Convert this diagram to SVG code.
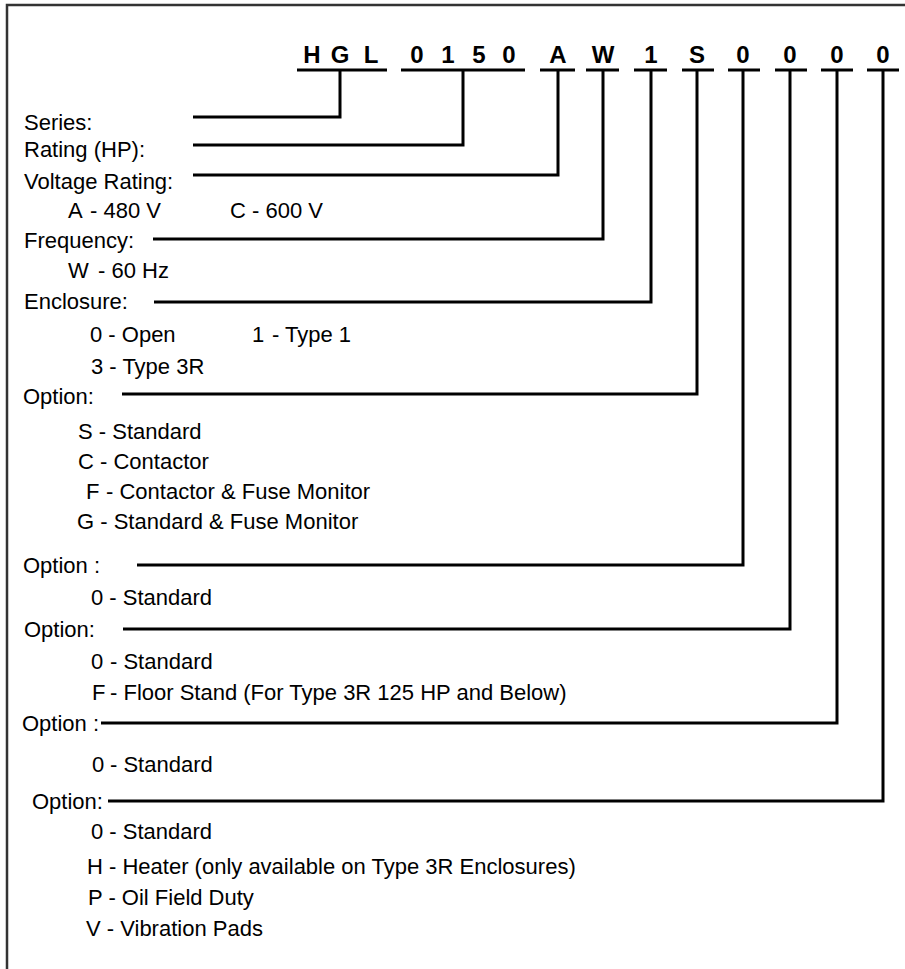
<svg xmlns="http://www.w3.org/2000/svg" width="905" height="969" viewBox="0 0 905 969">
<style>
text{font-family:"Liberation Sans",Arial,sans-serif;fill:#000}
.lbl{font-size:22px}
.code{font-size:24px;font-weight:bold;text-anchor:middle}
.ul{stroke:#000;stroke-width:3;fill:none}
.con{stroke:#000;stroke-width:3;fill:none;stroke-linejoin:miter;stroke-linecap:butt}
</style>
<rect x="7" y="5" width="1000" height="1000" fill="#fff" stroke="#333" stroke-width="2.5"/>
<g id="code">
<text class="code" x="312 340 371" y="63">HGL</text>
<text class="code" x="417 448 479 509" y="63">0150</text>
<text class="code" x="558" y="63">A</text>
<text class="code" x="603" y="63">W</text>
<text class="code" x="651" y="63">1</text>
<text class="code" x="697" y="63">S</text>
<text class="code" x="743" y="63">0</text>
<text class="code" x="790" y="63">0</text>
<text class="code" x="837" y="63">0</text>
<text class="code" x="883" y="63">0</text>
<path class="ul" d="M297 70H387M401 70H525M540 70H575M586 70H619M634 70H667M682 70H714M728 70H760M775 70H807M821 70H853M867 70H899"/>
</g>
<g id="connectors">
<path class="con" d="M340 70V117H193"/>
<path class="con" d="M463 70V145H193"/>
<path class="con" d="M558 70V175H193"/>
<path class="con" d="M603 70V239H153"/>
<path class="con" d="M651 70V302H154"/>
<path class="con" d="M697 70V394H122"/>
<path class="con" d="M743 70V565H137"/>
<path class="con" d="M790 70V629H123"/>
<path class="con" d="M837 70V723H101"/>
<path class="con" d="M883 70V801H108"/>
</g>
<g id="series"><text class="lbl" x="24" y="130">Series:</text></g>
<g id="rating"><text class="lbl" x="24" y="157">Rating (HP):</text></g>
<g id="voltage">
<text class="lbl" x="24" y="189">Voltage Rating:</text>
<text class="lbl" x="68" y="218">A<tspan x="90">- 480 V</tspan></text>
<text class="lbl" x="230" y="218">C<tspan x="252">- 600 V</tspan></text>
</g>
<g id="frequency">
<text class="lbl" x="24" y="248">Frequency:</text>
<text class="lbl" x="68" y="278">W<tspan x="98">- 60 Hz</tspan></text>
</g>
<g id="enclosure">
<text class="lbl" x="24" y="309">Enclosure:</text>
<text class="lbl" x="90" y="342">0 - Open</text>
<text class="lbl" x="252" y="342">1<tspan x="272">- Type 1</tspan></text>
<text class="lbl" x="91" y="374">3 - Type 3R</text>
</g>
<g id="option1">
<text class="lbl" x="23" y="404">Option:</text>
<text class="lbl" x="78" y="439">S - Standard</text>
<text class="lbl" x="78" y="469">C - Contactor</text>
<text class="lbl" x="86" y="499">F<tspan x="106">- Contactor &amp; Fuse Monitor</tspan></text>
<text class="lbl" x="77" y="529">G - Standard &amp; Fuse Monitor</text>
</g>
<g id="option2">
<text class="lbl" x="23" y="573">Option :</text>
<text class="lbl" x="91" y="605">0 - Standard</text>
</g>
<g id="option3">
<text class="lbl" x="24" y="637">Option:</text>
<text class="lbl" x="91" y="669">0<tspan x="110">- Standard</tspan></text>
<text class="lbl" x="92" y="700">F<tspan x="110">- Floor Stand (For Type 3R 125 HP and Below)</tspan></text>
</g>
<g id="option4">
<text class="lbl" x="22" y="731">Option :</text>
<text class="lbl" x="92" y="772">0<tspan x="110">- Standard</tspan></text>
</g>
<g id="option5">
<text class="lbl" x="32" y="809">Option:</text>
<text class="lbl" x="91" y="839">0 - Standard</text>
<text class="lbl" x="87" y="874">H - Heater (only available on Type 3R Enclosures)</text>
<text class="lbl" x="88" y="905">P - Oil Field Duty</text>
<text class="lbl" x="86" y="936">V - Vibration Pads</text>
</g>
</svg>
